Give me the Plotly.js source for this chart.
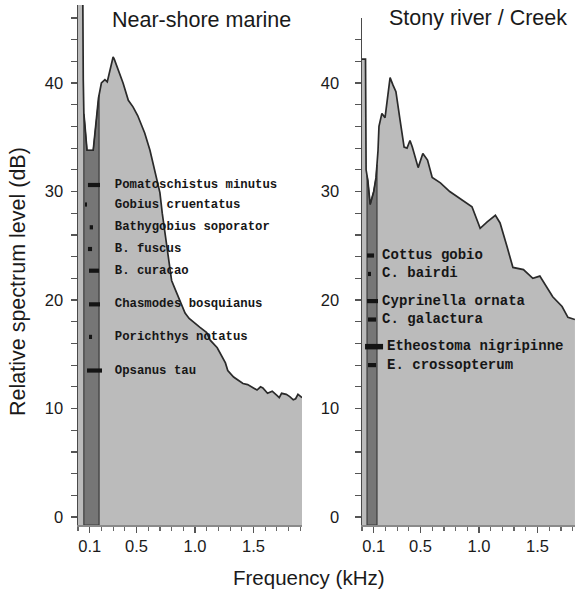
<!DOCTYPE html>
<html><head><meta charset="utf-8">
<script src="https://cdn.plot.ly/plotly-3.0.1.min.js"></script>
<style>html,body{margin:0;padding:0;background:#fff;overflow:hidden}</style>
</head><body><div id="chart" style="width:575px;height:592px"></div>
<script>
// ---- data (kHz, dB) ----
const leftFreq = [0, 0.04, 0.045, 0.05, 0.06, 0.077, 0.13, 0.165, 0.175, 0.20, 0.23, 0.25, 0.265, 0.30, 0.31, 0.34, 0.385, 0.43, 0.47, 0.51, 0.57, 0.615, 0.66, 0.70, 0.72, 0.745, 0.77, 0.80, 0.83, 0.855, 0.915, 0.95, 1.0, 1.04, 1.10, 1.13, 1.19, 1.22, 1.26, 1.28, 1.33, 1.37, 1.41, 1.45, 1.50, 1.53, 1.56, 1.58, 1.62, 1.66, 1.70, 1.72, 1.74, 1.78, 1.81, 1.84, 1.86, 1.88, 1.915];
const leftDb   = [50, 50, 40.3, 37.2, 36.0, 33.8, 33.8, 37.5, 38.6, 40.0, 40.3, 40.1, 40.8, 42.4, 42.2, 41.3, 40.0, 38.4, 37.8, 37.0, 35.4, 33.8, 31.7, 29.9, 28.0, 26.0, 23.7, 21.8, 21.0, 20.3, 18.8, 18.3, 17.9, 17.5, 17.0, 16.3, 15.6, 15.0, 14.2, 13.5, 12.9, 12.6, 12.3, 12.2, 11.9, 11.7, 12.0, 11.9, 11.4, 11.6, 11.2, 11.0, 11.4, 11.3, 11.1, 10.8, 10.9, 11.3, 11.0];

const rightFreq = [0, 0.03, 0.035, 0.05, 0.07, 0.10, 0.12, 0.137, 0.145, 0.17, 0.197, 0.24, 0.265, 0.29, 0.325, 0.36, 0.385, 0.41, 0.43, 0.48, 0.52, 0.56, 0.60, 0.67, 0.75, 0.82, 0.85, 0.94, 1.01, 1.07, 1.14, 1.18, 1.24, 1.29, 1.38, 1.46, 1.52, 1.56, 1.63, 1.71, 1.76, 1.82];
const rightDb   = [42.2, 42.2, 32.0, 31.0, 28.8, 30.0, 31.3, 33.8, 36.0, 37.2, 36.8, 40.5, 39.8, 39.2, 36.6, 34.1, 34.0, 34.7, 34.1, 32.2, 33.5, 32.9, 31.3, 30.8, 30.0, 29.5, 29.3, 28.6, 26.6, 27.2, 27.8, 27.1, 24.9, 23.0, 22.8, 22.0, 22.2, 21.5, 20.3, 19.4, 18.4, 18.2];

const leftBand = [0.05, 0.18];
const rightBand = [0.043, 0.128];

const leftSpecies = ['Pomatoschistus minutus', 'Gobius cruentatus', 'Bathygobius soporator', 'B. fuscus', 'B. curacao', 'Chasmodes bosquianus', 'Porichthys notatus', 'Opsanus tau'];
const leftSpeciesDb = [30.6, 28.8, 26.7, 24.7, 22.7, 19.6, 16.6, 13.5];
const leftMarkFrom = [0.085, 0.06, 0.10, 0.085, 0.094, 0.094, 0.094, 0.077];
const leftMarkTo   = [0.188, 0.077, 0.128, 0.12, 0.18, 0.188, 0.12, 0.205];
const leftLabelFreq = 0.315;

const rightSpecies = ['Cottus gobio', 'C. bairdi', 'Cyprinella ornata', 'C. galactura', 'Etheostoma nigripinne', 'E. crossopterum'];
const rightSpeciesDb = [24.1, 22.4, 19.9, 18.2, 15.7, 14.0];
const rightMarkFrom = [0.043, 0.051, 0.043, 0.051, 0.026, 0.051];
const rightMarkTo   = [0.103, 0.077, 0.137, 0.12, 0.18, 0.12];
const rightLabelFreq = [0.172, 0.172, 0.172, 0.172, 0.214, 0.214];

const xTickVals = [0.1, 0.5, 1.0, 1.5];
const xTickText = ['0.1', '0.5', '1.0', '1.5'];
const yTickVals = [0, 10, 20, 30, 40];

// ---- geometry ----
const W = 575, H = 592;
const PXK = 117;            // px per kHz
const PXD = 10.85;          // px per dB
const y0px = 517;           // pixel row of 0 dB
const bottomPx = 525;
const yMin = -(bottomPx - y0px) / PXD;
const leftTop = (y0px - 5) / PXD;
const rightTop = (y0px - 18) / PXD;
const lx0 = 78, lx1 = 302, rx0 = 362, rx1 = 575;

function interp(xs, ys, x) {
  for (let i = 0; i < xs.length - 1; i++) {
    if (x >= xs[i] && x <= xs[i + 1]) {
      const t = (x - xs[i]) / (xs[i + 1] - xs[i]);
      return ys[i] + t * (ys[i + 1] - ys[i]);
    }
  }
  return ys[ys.length - 1];
}
function bandPoly(xs, ys, lo, hi, base) {
  const px = [lo], py = [interp(xs, ys, lo)];
  xs.forEach((x, i) => { if (x > lo && x < hi) { px.push(x); py.push(ys[i]); } });
  px.push(hi); py.push(interp(xs, ys, hi));
  px.push(hi, lo, lo); py.push(base, base, py[0]);
  return [px, py];
}

const FILL = '#bbbbbb', BAND = '#767676', LINE = '#2a2a2a';
const monoFont = 'Liberation Mono, Courier New, monospace';

function panel(xs, ys, band, names, dbs, from, to, labelX, xa, ya, fsize) {
  const tr = [];
  tr.push({x: xs.concat([xs[xs.length - 1], xs[0]]), y: ys.concat([yMin, yMin]),
    xaxis: xa, yaxis: ya, mode: 'lines', fill: 'toself', fillcolor: FILL,
    line: {width: 0}, hoverinfo: 'skip', showlegend: false});
  const bp = bandPoly(xs, ys, band[0], band[1], yMin);
  tr.push({x: bp[0], y: bp[1], xaxis: xa, yaxis: ya, mode: 'lines', fill: 'toself',
    fillcolor: BAND, line: {width: 1.2, color: '#3c3c3c'}, hoverinfo: 'skip', showlegend: false});
  tr.push({x: xs, y: ys, xaxis: xa, yaxis: ya, mode: 'lines',
    line: {width: 1.7, color: LINE}, hoverinfo: 'skip', showlegend: false});
  names.forEach((n, i) => {
    tr.push({x: [from[i], to[i]], y: [dbs[i], dbs[i]], xaxis: xa, yaxis: ya, mode: 'lines',
      line: {width: n.startsWith('Etheostoma') ? 5.5 : 4.2, color: '#141414'}, hoverinfo: 'skip', showlegend: false});
  });
  tr.push({x: names.map((n, i) => Array.isArray(labelX) ? labelX[i] : labelX), y: dbs,
    text: names.map(n => '<b>' + n + '</b>'), xaxis: xa, yaxis: ya, mode: 'text',
    textposition: 'middle right', cliponaxis: false,
    textfont: {family: monoFont, size: fsize, color: '#161616'}, hoverinfo: 'skip', showlegend: false});
  return tr;
}

const data = [].concat(
  panel(leftFreq, leftDb, leftBand, leftSpecies, leftSpeciesDb, leftMarkFrom, leftMarkTo, leftLabelFreq, 'x', 'y', 12.3),
  panel(rightFreq, rightDb, rightBand, rightSpecies, rightSpeciesDb, rightMarkFrom, rightMarkTo, rightLabelFreq, 'x2', 'y2', 14)
);

const tickFont = {family: 'Liberation Sans, Arial, sans-serif', size: 16.5, color: '#1a1a1a'};
function xAxis(d0, d1, r1, anchor) {
  return {domain: [d0 / W, d1 / W], range: [0, r1], anchor: anchor,
    tickmode: 'array', tickvals: xTickVals, ticktext: xTickText,
    ticks: 'outside', ticklen: 6, tickwidth: 1.2, tickcolor: '#555',
    showline: true, linecolor: '#8a8a8a', linewidth: 1.5, mirror: false,
    showgrid: false, zeroline: false, tickfont: tickFont, fixedrange: true,
    minor: {tick0: 0, dtick: 0.1, ticks: 'outside', ticklen: 4, tickwidth: 1.2, tickcolor: '#666', showgrid: false}};
}
function yAxis(top, topPx, anchor, standoff) {
  return {domain: [(H - bottomPx) / H, (H - topPx) / H], range: [yMin, top], anchor: anchor,
    tickmode: 'array', tickvals: yTickVals, ticks: 'outside', ticklen: 6, tickwidth: 1.2, tickcolor: '#555',
    showline: true, linecolor: '#4a4a4a', linewidth: 1.5, showgrid: false, zeroline: false,
    tickfont: tickFont, fixedrange: true, ticklabelstandoff: standoff,
    minor: {tick0: 0, dtick: 2, ticks: 'outside', ticklen: 6, tickwidth: 1.2, tickcolor: '#555', showgrid: false}};
}

const titleFont = {family: 'Liberation Sans, Arial, sans-serif', size: 21.5, color: '#1a1a1a'};
const xTitleFont = {family: 'Liberation Sans, Arial, sans-serif', size: 20.5, color: '#1a1a1a'};
const yTitleFont = {family: 'Liberation Sans, Arial, sans-serif', size: 21.5, color: '#1a1a1a'};
const layout = {
  width: W, height: H, margin: {l: 0, r: 0, t: 0, b: 0},
  paper_bgcolor: '#ffffff', plot_bgcolor: 'rgba(0,0,0,0)', showlegend: false,
  xaxis: xAxis(lx0, lx1, (lx1 - lx0) / PXK, 'y'),
  yaxis: yAxis(leftTop, 5, 'x', 4),
  xaxis2: xAxis(rx0, rx1, (rx1 - rx0) / PXK, 'y2'),
  yaxis2: yAxis(rightTop, 18, 'x2', 12),
  annotations: [
    {text: 'Near-shore marine', xref: 'paper', yref: 'paper', x: 201 / W, y: 1 - 20 / H, xanchor: 'center', yanchor: 'middle', showarrow: false, font: titleFont},
    {text: 'Stony river / Creek', xref: 'paper', yref: 'paper', x: 478 / W, y: 1 - 18 / H, xanchor: 'center', yanchor: 'middle', showarrow: false, font: titleFont},
    {text: 'Frequency (kHz)', xref: 'paper', yref: 'paper', x: 309 / W, y: 1 - 577 / H, xanchor: 'center', yanchor: 'middle', showarrow: false, font: xTitleFont},
    {text: 'Relative spectrum level (dB)', xref: 'paper', yref: 'paper', x: 18 / W, y: 1 - 282 / H, xanchor: 'center', yanchor: 'middle', textangle: -90, showarrow: false, font: yTitleFont}
  ]
};

Plotly.newPlot('chart', data, layout, {displayModeBar: false, staticPlot: true});
</script>
</body></html>
